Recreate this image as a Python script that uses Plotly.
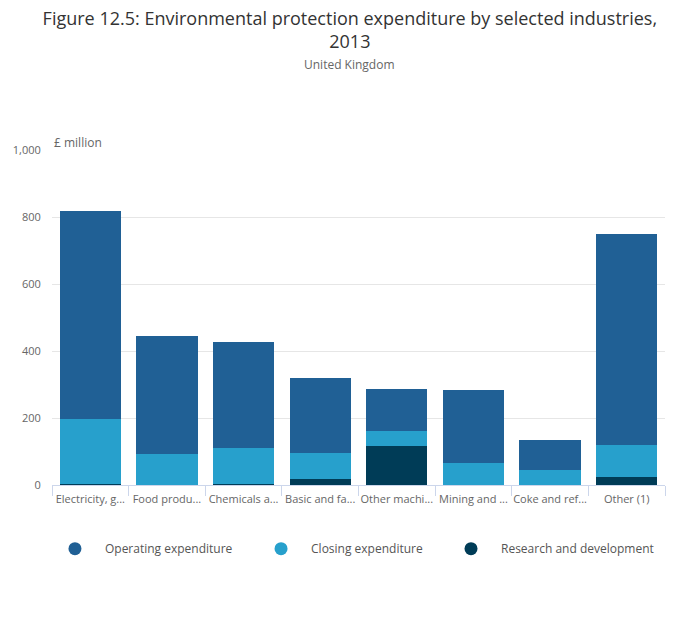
import plotly.graph_objects as go

categories = ["Electricity, g...", "Food produ...", "Chemicals a...", "Basic and fa...",
              "Other machi...", "Mining and ...", "Coke and ref...", "Other (1)"]
research = [3, 0, 3, 18, 116, 0, 0, 24]
closing = [194, 93, 107, 77, 45, 66, 45, 95]
operating = [622, 351, 316, 224, 125, 217, 89, 629]

series = [
    ("Research and development", research, "#003c57"),
    ("Closing expenditure", closing, "#27a0cc"),
    ("Operating expenditure", operating, "#206095"),
]
legend_order = ["Operating expenditure", "Closing expenditure", "Research and development"]
colors = {n: c for n, _, c in series}

FONT = "Open Sans"
fig = go.Figure()
for name, vals, col in series:
    fig.add_trace(go.Bar(x=categories, y=vals, name=name, marker_color=col,
                         marker_line_width=0, showlegend=False))
legend_ids = ["legend", "legend2", "legend3"]
for lid, name in zip(legend_ids, legend_order):
    fig.add_trace(go.Scatter(x=[None], y=[None], mode="markers", name=name, legend=lid,
                             marker=dict(symbol="circle", size=13, color=colors[name])))

legend_x = [-0.0115, 0.3247, 0.6346]
legend_common = dict(orientation="h", xanchor="left", y=-0.19, yanchor="middle",
                     font=dict(size=12, color="#555555"), itemwidth=50,
                     bgcolor="rgba(0,0,0,0)")

fig.update_layout(
    width=692, height=627,
    barmode="stack", bargap=0.2,
    plot_bgcolor="white", paper_bgcolor="white",
    margin=dict(l=44, r=35, t=142, b=150, autoexpand=False),
    font=dict(family=FONT, color="#666666", size=11),
    title=dict(text="Figure 12.5: Environmental protection expenditure by selected industries,<br>2013",
               x=0.494, xref="container", xanchor="center", y=1 - 17 / 627, yref="container",
               yanchor="top", font=dict(size=18, color="#333333", family=FONT)),
    showlegend=True,
    legend=dict(x=legend_x[0], **legend_common),
    legend2=dict(x=legend_x[1], **legend_common),
    legend3=dict(x=legend_x[2], **legend_common),
    xaxis=dict(showline=True, linecolor="#ccd6eb", linewidth=1, ticks="outside",
               tickson="boundaries", ticklen=10, tickcolor="#ccd6eb", tickangle=0,
               ticklabelstandoff=4, automargin=False,
               tickfont=dict(size=11, color="#666666"), showgrid=False),
    yaxis=dict(range=[0, 1000], tickvals=[0, 200, 400, 600, 800, 1000], tickformat=",",
               gridcolor="#e6e6e6", zeroline=False, ticks="outside", ticklen=8,
               automargin=False,
               tickcolor="rgba(0,0,0,0)", tickfont=dict(size=11, color="#666666")),
    annotations=[
        dict(text="United Kingdom", xref="paper", yref="paper", x=0.486, y=1,
             xanchor="center", yanchor="middle", yshift=86, showarrow=False,
             font=dict(size=12, color="#666666", family=FONT)),
        dict(text="£ million", xref="paper", yref="paper", x=0, y=1, xanchor="left",
             yanchor="bottom", yshift=-3, showarrow=False,
             font=dict(size=12, color="#666666", family=FONT)),
    ],
)
fig.write_html("out.html")
